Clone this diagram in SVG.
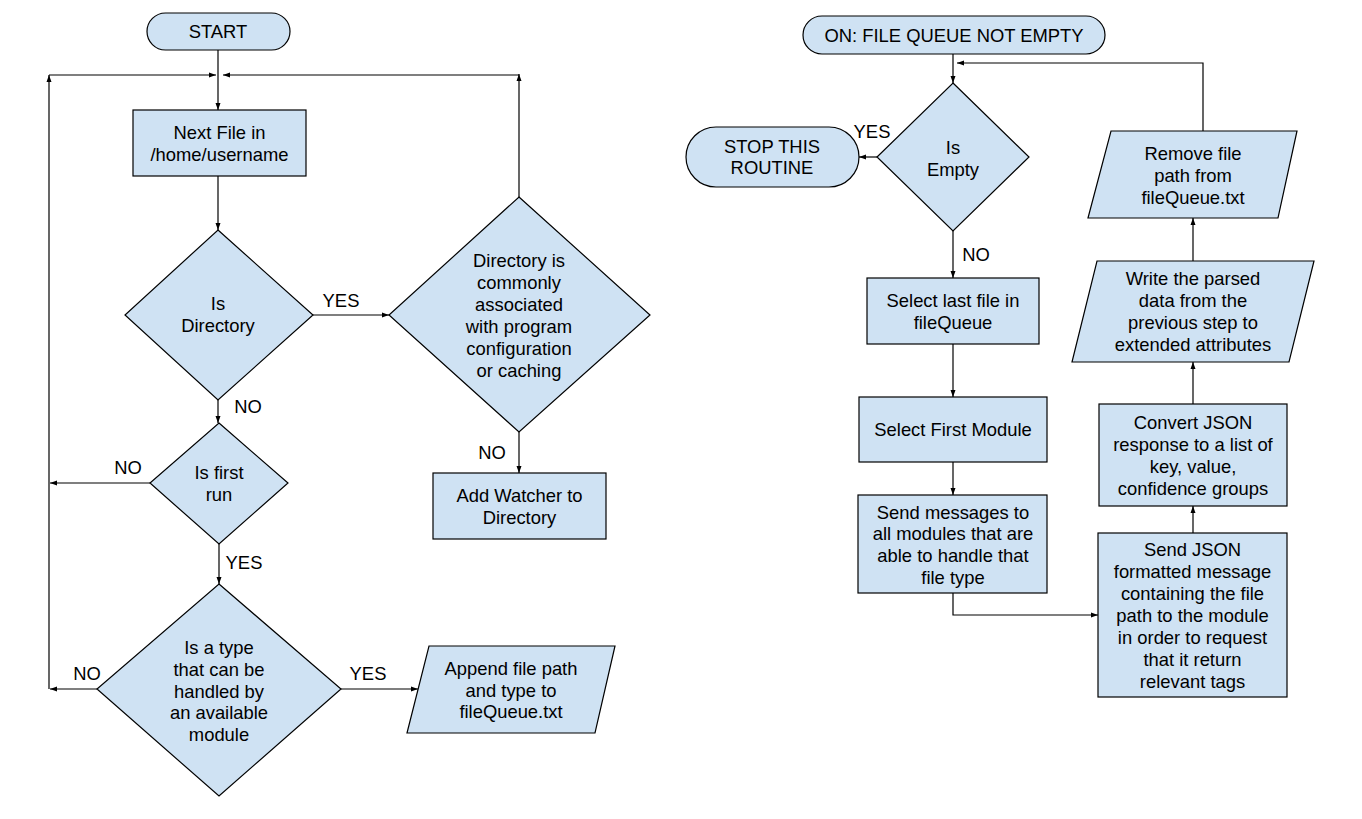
<svg xmlns="http://www.w3.org/2000/svg" width="1362" height="819" viewBox="0 0 1362 819">
<defs>
<marker id="ah" markerWidth="7" markerHeight="6" refX="7" refY="3" orient="auto" markerUnits="userSpaceOnUse"><path d="M0,0.5 L7,3 L0,5.5 z" fill="#000"/></marker>
<style>
.n{fill:#cfe2f3;stroke:#000;stroke-width:1.2}
.t{font-family:"Liberation Sans",Arial,sans-serif;font-size:18.4px;fill:#000;text-anchor:middle}
.c{fill:none;stroke:#000;stroke-width:1.2}
.a{marker-end:url(#ah)}
</style>
</defs>
<rect width="1362" height="819" fill="#fff"/>
<g id="connectors">
<path class="c a" d="M218,50 V110"/>
<path class="c a" d="M150,483 H50"/>
<path class="c a" d="M97,689 H50"/>
<path class="c a" d="M49,689 V75"/>
<path class="c a" d="M49,75 H216"/>
<path class="c a" d="M519,197 V74"/>
<path class="c a" d="M519,75 H223"/>
<path class="c a" d="M218,176 V230"/>
<path class="c a" d="M313,315 H389"/>
<path class="c a" d="M218,400 V423"/>
<path class="c a" d="M219,544 V584"/>
<path class="c a" d="M341,689 H418"/>
<path class="c a" d="M519,432 V473"/>
<path class="c a" d="M953,54 V83"/>
<path class="c a" d="M877,157 H859"/>
<path class="c a" d="M953,231 V278"/>
<path class="c a" d="M953,344 V397"/>
<path class="c a" d="M953,462 V495"/>
<path class="c a" d="M953,593 V615 H1098"/>
<path class="c a" d="M1193,533 V506"/>
<path class="c a" d="M1193,404 V362"/>
<path class="c a" d="M1193,261 V218"/>
<path class="c a" d="M1203,131 V63 H957"/>
</g>
<g id="labels">
<text class="t" x="341" y="307">YES</text>
<text class="t" x="248" y="413">NO</text>
<text class="t" x="128" y="474">NO</text>
<text class="t" x="244" y="569">YES</text>
<text class="t" x="87" y="680">NO</text>
<text class="t" x="368" y="680">YES</text>
<text class="t" x="492" y="459">NO</text>
<text class="t" x="872" y="138">YES</text>
<text class="t" x="976" y="261">NO</text>
</g>
<g id="start">
<rect class="n" x="147" y="13" width="143" height="37" rx="18.5"/>
<text class="t" x="218" y="38">START</text>
</g>
<g id="next-file">
<rect class="n" x="133" y="110" width="173" height="66"/>
<text class="t" x="219.5" y="139">Next File in</text>
<text class="t" x="219.5" y="161">/home/username</text>
</g>
<g id="is-directory">
<path class="n" d="M218,230 L313,315 L218,400 L125,315 Z"/>
<text class="t" x="218" y="310">Is</text>
<text class="t" x="218" y="332">Directory</text>
</g>
<g id="dir-common">
<path class="n" d="M519,197 L650,315 L519,432 L389,315 Z"/>
<text class="t" x="519" y="267">Directory is</text>
<text class="t" x="519" y="289">commonly</text>
<text class="t" x="519" y="311">associated</text>
<text class="t" x="519" y="333">with program</text>
<text class="t" x="519" y="355">configuration</text>
<text class="t" x="519" y="377">or caching</text>
</g>
<g id="add-watcher">
<rect class="n" x="433" y="473" width="173" height="66"/>
<text class="t" x="519.5" y="502">Add Watcher to</text>
<text class="t" x="519.5" y="524">Directory</text>
</g>
<g id="is-first-run">
<path class="n" d="M219,423 L288,483 L219,544 L150,483 Z"/>
<text class="t" x="219" y="479">Is first</text>
<text class="t" x="219" y="501">run</text>
</g>
<g id="is-type">
<path class="n" d="M219,584 L341,689 L219,796 L97,689 Z"/>
<text class="t" x="219" y="654">Is a type</text>
<text class="t" x="219" y="676">that can be</text>
<text class="t" x="219" y="698">handled by</text>
<text class="t" x="219" y="719">an available</text>
<text class="t" x="219" y="741">module</text>
</g>
<g id="append">
<path class="n" d="M429,646 L615,646 L595,733 L407,733 Z"/>
<text class="t" x="511" y="675">Append file path</text>
<text class="t" x="511" y="697">and type to</text>
<text class="t" x="511" y="718">fileQueue.txt</text>
</g>
<g id="on-queue">
<rect class="n" x="803" y="16" width="302" height="38" rx="19"/>
<text class="t" x="954" y="42">ON: FILE QUEUE NOT EMPTY</text>
</g>
<g id="is-empty">
<path class="n" d="M953,83 L1029,157 L953,231 L877,157 Z"/>
<text class="t" x="953" y="154">Is</text>
<text class="t" x="953" y="176">Empty</text>
</g>
<g id="stop">
<rect class="n" x="686" y="127" width="173" height="60" rx="30"/>
<text class="t" x="772" y="153">STOP THIS</text>
<text class="t" x="772" y="174">ROUTINE</text>
</g>
<g id="select-last">
<rect class="n" x="867" y="278" width="172" height="66"/>
<text class="t" x="953" y="307">Select last file in</text>
<text class="t" x="953" y="329">fileQueue</text>
</g>
<g id="select-first">
<rect class="n" x="859" y="397" width="188" height="65"/>
<text class="t" x="953" y="436">Select First Module</text>
</g>
<g id="send-messages">
<rect class="n" x="858" y="495" width="189" height="98"/>
<text class="t" x="953" y="519">Send messages to</text>
<text class="t" x="953" y="540">all modules that are</text>
<text class="t" x="953" y="562">able to handle that</text>
<text class="t" x="953" y="584">file type</text>
</g>
<g id="send-json">
<rect class="n" x="1098" y="533" width="189" height="164"/>
<text class="t" x="1192.5" y="556">Send JSON</text>
<text class="t" x="1192.5" y="578">formatted message</text>
<text class="t" x="1192.5" y="600">containing the file</text>
<text class="t" x="1192.5" y="622">path to the module</text>
<text class="t" x="1192.5" y="644">in order to request</text>
<text class="t" x="1192.5" y="666">that it return</text>
<text class="t" x="1192.5" y="688">relevant tags</text>
</g>
<g id="convert-json">
<rect class="n" x="1099" y="404" width="188" height="102"/>
<text class="t" x="1193" y="429">Convert JSON</text>
<text class="t" x="1193" y="451">response to a list of</text>
<text class="t" x="1193" y="473">key, value,</text>
<text class="t" x="1193" y="495">confidence groups</text>
</g>
<g id="write-parsed">
<path class="n" d="M1097,261 L1314,261 L1289,362 L1072,362 Z"/>
<text class="t" x="1193" y="285">Write the parsed</text>
<text class="t" x="1193" y="307">data from the</text>
<text class="t" x="1193" y="329">previous step to</text>
<text class="t" x="1193" y="351">extended attributes</text>
</g>
<g id="remove">
<path class="n" d="M1111,131 L1297,131 L1278,218 L1088,218 Z"/>
<text class="t" x="1193" y="160">Remove file</text>
<text class="t" x="1193" y="182">path from</text>
<text class="t" x="1193" y="204">fileQueue.txt</text>
</g>
</svg>
